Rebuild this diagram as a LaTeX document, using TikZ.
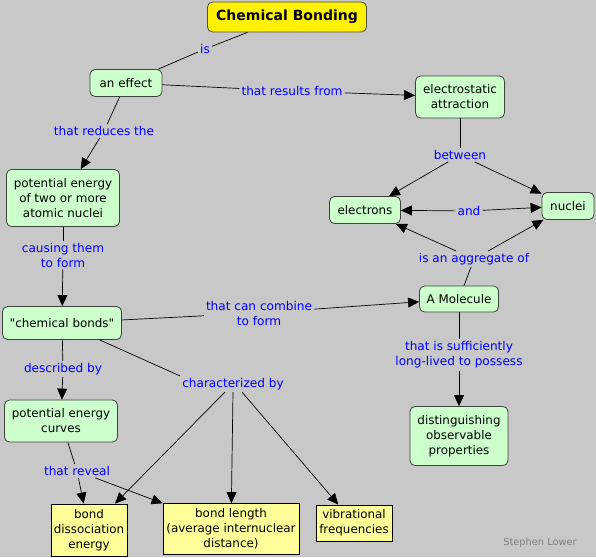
\documentclass[tikz,border=0pt]{standalone}
\usepackage{fontspec}
\setmainfont{DejaVu Sans}
\newfontfamily\plainfont{DejaVu Sans}
\usetikzlibrary{arrows.meta}
\definecolor{bgc}{RGB}{200,200,200}
\definecolor{cgreen}{RGB}{204,255,204}
\definecolor{cyell}{RGB}{255,255,153}
\definecolor{lblue}{RGB}{0,0,255}
\definecolor{sig}{RGB}{128,128,128}
\begin{document}
\begin{tikzpicture}[x=1pt,y=-1pt,
  box/.style={draw=black!75, line width=0.8pt, rounded corners=5pt, fill=cgreen, align=center, inner sep=1pt, font=\fontsize{11.9}{15}\selectfont},
  ybox/.style={draw=black, line width=0.8pt, fill=cyell, align=center, inner sep=1pt, font=\fontsize{11.9}{15}\selectfont},
  lbl/.style={text=lblue, align=center, inner sep=2pt, font=\fontsize{12.1}{15}\selectfont},
  ln/.style={line width=0.7pt},
  arr/.style={line width=0.7pt, -{Triangle[length=11pt,width=10pt]}}]
\fill[bgc] (0,0) rectangle (596,557);
\useasboundingbox (0,0) rectangle (596,557);

% concepts
\node[box, fill=yellow, draw=black!70, minimum width=159, minimum height=30, font=\fontsize{14}{16}\selectfont\bfseries] (cb) at (287,17) {Chemical Bonding};
\node[box, minimum width=72, minimum height=27] (eff) at (126,83) {an effect};
\node[box, minimum width=89, minimum height=42] (ea) at (460,97) {electrostatic\\attraction};
\node[box, minimum width=113, minimum height=57] (pe) at (63,198) {potential energy\\of two or more\\atomic nuclei};
\node[box, minimum width=71, minimum height=27] (el) at (365,210) {electrons};
\node[box, minimum width=52, minimum height=27] (nu) at (568,206) {nuclei};
\node[box, minimum width=119, minimum height=33] (bonds) at (62,323) {\plainfont "chemical bonds"};
\node[box, minimum width=79, minimum height=26] (mol) at (459,299) {A Molecule};
\node[box, minimum width=113, minimum height=42] (pec) at (61,421) {potential energy\\curves};
\node[box, minimum width=98, minimum height=59] (dop) at (459,436) {distinguishing\\observable\\properties};
\node[ybox, minimum width=76, minimum height=52] (bde) at (89,530) {bond\\dissociation\\energy};
\node[ybox, minimum width=136, minimum height=51] (bl) at (231,529) {bond length\\(average internuclear\\distance)};
\node[ybox, minimum width=76, minimum height=36] (vf) at (354,523) {vibrational\\frequencies};

% linking phrases
\node[lbl] (lis) at (205,49) {is};
\node[lbl] (lres) at (292,91) {that results from};
\node[lbl] (lred) at (104,131) {that reduces the};
\node[lbl] (lbet) at (460,155) {between};
\node[lbl] (land) at (469,211) {and};
\node[lbl] (lagg) at (474,259) {is an aggregate of};
\node[lbl] (lcau) at (63,255) {causing them\\to form};
\node[lbl] (lcomb) at (259,313) {that can combine\\to form};
\node[lbl] (ldesc) at (63,369) {described by};
\node[lbl] (lchar) at (233,384) {characterized by};
\node[lbl] (lsuff) at (459,355) {that is sufficiently\\long-lived to possess};
\node[lbl] (lrev) at (77,471) {that reveal};
\node[text=sig, font=\fontsize{9.8}{11}\selectfont] (sl) at (540,543) {Stephen Lower};

% connectors
\draw[ln] (eff) -- (lis) -- (cb);
\draw[ln] (eff) -- (lres); \draw[arr] (lres) -- (ea);
\draw[ln] (eff) -- (lred); \draw[arr] (lred) -- (pe);
\draw[ln] (ea) -- (lbet); \draw[arr] (lbet) -- (el); \draw[arr] (lbet) -- (nu);
\draw[arr] (land) -- (el); \draw[arr] (land) -- (nu);
\draw[ln] (mol) -- (lagg); \draw[arr] (lagg) -- (el); \draw[arr] (lagg) -- (nu);
\draw[ln] (pe) -- (lcau); \draw[arr] (lcau) -- (bonds);
\draw[ln] (bonds) -- (lcomb); \draw[arr] (lcomb) -- (mol);
\draw[ln] (bonds) -- (ldesc); \draw[arr] (ldesc) -- (pec);
\draw[ln] (bonds) -- (lchar.north west);
\draw[arr] ([xshift=-8pt]lchar.south) -- (bde);
\draw[arr] (lchar.south) -- (bl);
\draw[arr] ([xshift=9pt]lchar.south) -- (vf);
\draw[ln] (pec) -- (lrev); \draw[arr] (lrev) -- (bde); \draw[arr] (lrev) -- (bl);
\draw[ln] (mol) -- (lsuff); \draw[arr] (lsuff) -- (dop);
\end{tikzpicture}
\end{document}
